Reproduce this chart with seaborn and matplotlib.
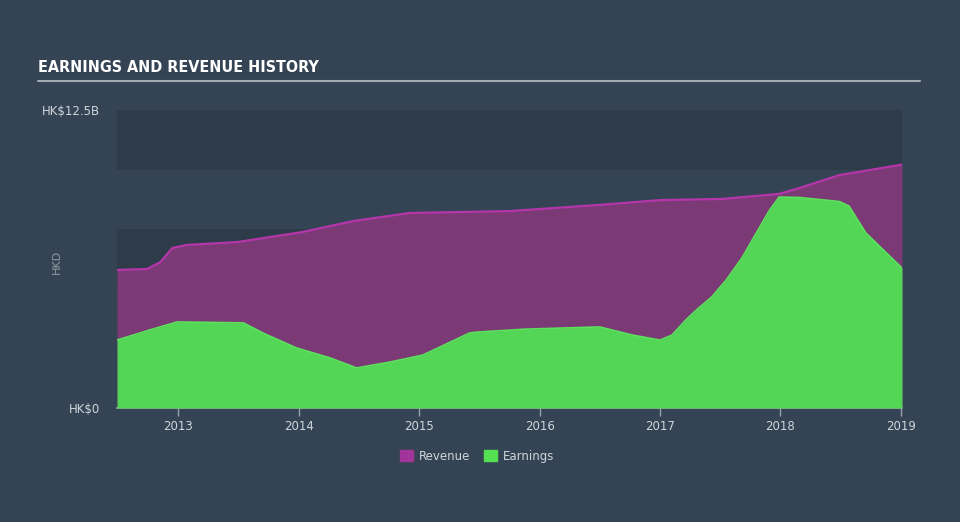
import matplotlib
matplotlib.use("Agg")
import matplotlib.pyplot as plt
import matplotlib.patches as mpatches
import seaborn as sns
import pandas as pd

# ---- data (values in HK$ billions, dates as fractional years) ----
rev_dates = [2012.49, 2012.74, 2012.85, 2012.95, 2013.07, 2013.49, 2014.03, 2014.45,
             2014.92, 2015.75, 2016.50, 2017.00, 2017.52, 2017.99, 2018.16, 2018.49,
             2018.74, 2019.01]
rev_values = [5.79, 5.83, 6.12, 6.71, 6.84, 6.96, 7.38, 7.84,
              8.18, 8.26, 8.52, 8.72, 8.77, 8.98, 9.23, 9.77,
              9.98, 10.21]

earn_dates = [2012.49, 2012.76, 2012.99, 2013.54, 2013.70, 2013.98, 2014.26, 2014.48,
              2014.76, 2015.03, 2015.42, 2015.50, 2015.89, 2016.50, 2016.77, 2017.00,
              2017.10, 2017.22, 2017.32, 2017.43, 2017.55, 2017.68, 2017.80, 2017.91,
              2017.99, 2018.16, 2018.49, 2018.57, 2018.71, 2019.01]
earn_values = [2.85, 3.27, 3.61, 3.57, 3.15, 2.52, 2.10, 1.68,
               1.93, 2.22, 3.15, 3.19, 3.31, 3.40, 3.06, 2.85,
               3.06, 3.72, 4.19, 4.66, 5.37, 6.29, 7.34, 8.30,
               8.85, 8.83, 8.66, 8.47, 7.34, 5.87]

year_ticks = [2013, 2014, 2015, 2016, 2017, 2018, 2019]
y_ticks = [0, 12.5]
y_tick_labels = ["HK$0", "HK$12.5B"]

# ---- style ----
BG = "#344454"
BAND_DARK = "#2e3c4a"
REV_FILL = "#7b3a75"
REV_LINE = "#b536aa"
EARN_FILL = "#53d656"
EARN_LINE = "#5be35c"
TXT = "#d0d5da"

sns.set_theme(style="dark")
plt.rcParams["font.family"] = ["DejaVu Sans"]

fig = plt.figure(figsize=(9.6, 5.22), dpi=100, facecolor=BG)
ax = fig.add_axes([117 / 960, 1 - 408 / 522, (902 - 117) / 960, (408 - 110) / 522])
ax.set_facecolor(BG)

# horizontal bands
for lo, hi in [(0, 2.5), (5, 7.5), (10, 12.5)]:
    ax.axhspan(lo, hi, color=BAND_DARK, lw=0, zorder=0)

rev_df = pd.DataFrame({"date": rev_dates, "value": rev_values})
earn_df = pd.DataFrame({"date": earn_dates, "value": earn_values})

ax.fill_between(rev_df["date"], rev_df["value"], color=REV_FILL, lw=0, zorder=1)
sns.lineplot(data=rev_df, x="date", y="value", ax=ax, color=REV_LINE, lw=1.6, zorder=2)
ax.fill_between(earn_df["date"], earn_df["value"], color=EARN_FILL, lw=0, zorder=3)
sns.lineplot(data=earn_df, x="date", y="value", ax=ax, color=EARN_LINE, lw=1.2, zorder=4)

ax.set_xlim(2012.49, 2019.01)
ax.set_ylim(0, 12.5)
ax.set_xticks(year_ticks)
ax.set_xticklabels([str(y) for y in year_ticks], color=TXT, fontsize=8.5)
ax.set_yticks(y_ticks)
ax.set_yticklabels(y_tick_labels, color=TXT, fontsize=8.5)
ax.set_xlabel("")
ax.set_ylabel("")
ax.grid(False)
for side in ["top", "right", "left"]:
    ax.spines[side].set_visible(False)
ax.spines["bottom"].set_color("#9aa3ad")
ax.spines["bottom"].set_linewidth(1.2)
ax.tick_params(axis="x", colors="#9aa3ad", length=6, width=1, direction="out", pad=3,
               labelcolor=TXT, bottom=True)
ax.tick_params(axis="y", length=0, pad=12)

# HKD axis label (partly hidden)
fig.text(57 / 960, 1 - 262 / 522, "HKD", rotation=90, color=TXT, fontsize=8,
         ha="center", va="center", alpha=0.6)

# title
fig.text(38 / 960, 1 - 68 / 522, "EARNINGS AND REVENUE HISTORY", color="#ffffff",
         fontsize=11.5, fontweight="bold", fontstretch="condensed",
         ha="left", va="center")
fig.add_artist(plt.Line2D([38 / 960, 920 / 960], [1 - 81 / 522, 1 - 81 / 522],
                          color="#a3aab2", lw=1.5))

# legend
handles = [mpatches.Patch(color="#a3359a", label="Revenue"),
           mpatches.Patch(color="#52e052", label="Earnings")]
leg = fig.legend(handles=handles, loc="center", bbox_to_anchor=(477 / 960, 1 - 456 / 522),
                 ncol=2, frameon=False, fontsize=8.5, handlelength=1.1, handleheight=1.1,
                 columnspacing=1.2, handletextpad=0.5)
for t in leg.get_texts():
    t.set_color(TXT)

fig.savefig("out.png", dpi=100, facecolor=BG)
